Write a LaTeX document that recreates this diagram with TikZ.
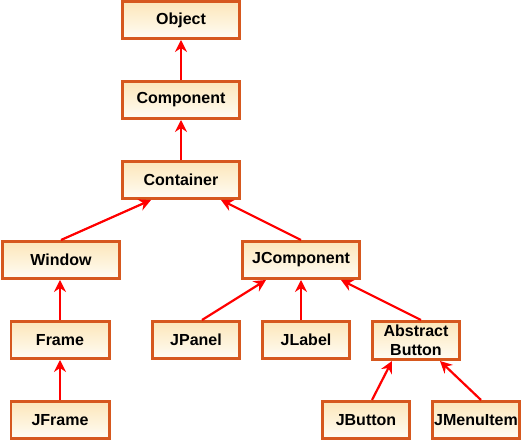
\documentclass[tikz,border=0pt]{standalone}
\usepackage{fontspec}
\setmainfont{Liberation Sans}
\usetikzlibrary{arrows.meta}
\definecolor{boxborder}{RGB}{214,88,30}
\definecolor{boxtop}{RGB}{252,230,185}
\definecolor{boxbot}{RGB}{255,253,245}
\definecolor{arrred}{RGB}{255,0,0}
\tikzset{
  cls/.style={draw=boxborder, line width=2.8pt, top color=boxtop, bottom color=boxbot,
    minimum height=37.2pt, inner sep=1pt, font=\fontsize{16}{19}\selectfont\bfseries, align=center},
  w120/.style={cls, minimum width=117.2pt},
  w100/.style={cls, minimum width=98.2pt},
  w90/.style={cls, minimum width=87.2pt},
  inherit/.style={draw=arrred, line width=2.2pt, -{Stealth[length=12pt,width=12pt,inset=4pt]}}
}
\begin{document}
\begin{tikzpicture}[x=1pt,y=1pt]
\useasboundingbox (0,0) rectangle (523,443);
\node[w120] (object) at (181,423) {Object};
\node[w120] (component) at (181,343) {Component};
\node[w120] (container) at (181,263) {Container};
\node[w120] (window) at (61,183) {Window};
\node[w120] (jcomponent) at (301,183) {JComponent};
\node[w100] (frame) at (60,103) {Frame};
\node[w100] (jframe) at (60,23) {JFrame};
\node[w90] (jpanel) at (196,103) {JPanel};
\node[w90] (jlabel) at (306,103) {JLabel};
\node[w90,minimum height=38.2pt] (abutton) at (416,102.5) {Abstract\\Button};
\node[w90] (jbutton) at (366,23) {JButton};
\node[w90] (jmenuitem) at (476,23) {JMenuItem};

\draw[inherit] (component.north) -- (object.south);
\draw[inherit] (container.north) -- (component.south);
\draw[inherit] (window.north) -- ([xshift=-30pt]container.south);
\draw[inherit] (jcomponent.north) -- ([xshift=40pt]container.south);
\draw[inherit] (frame.north) -- (window.south -| frame.north);
\draw[inherit] (jframe.north) -- (frame.south);
\draw[inherit] ([xshift=6pt]jpanel.north) -- ([xshift=-35pt]jcomponent.south);
\draw[inherit] ([xshift=-5pt]jlabel.north) -- (jcomponent.south);
\draw[inherit] ([xshift=5pt]abutton.north) -- ([xshift=40pt]jcomponent.south);
\draw[inherit] ([xshift=6pt]jbutton.north) -- ([xshift=-24pt]abutton.south);
\draw[inherit] ([xshift=5pt]jmenuitem.north) -- ([xshift=24pt]abutton.south);
\end{tikzpicture}
\end{document}
